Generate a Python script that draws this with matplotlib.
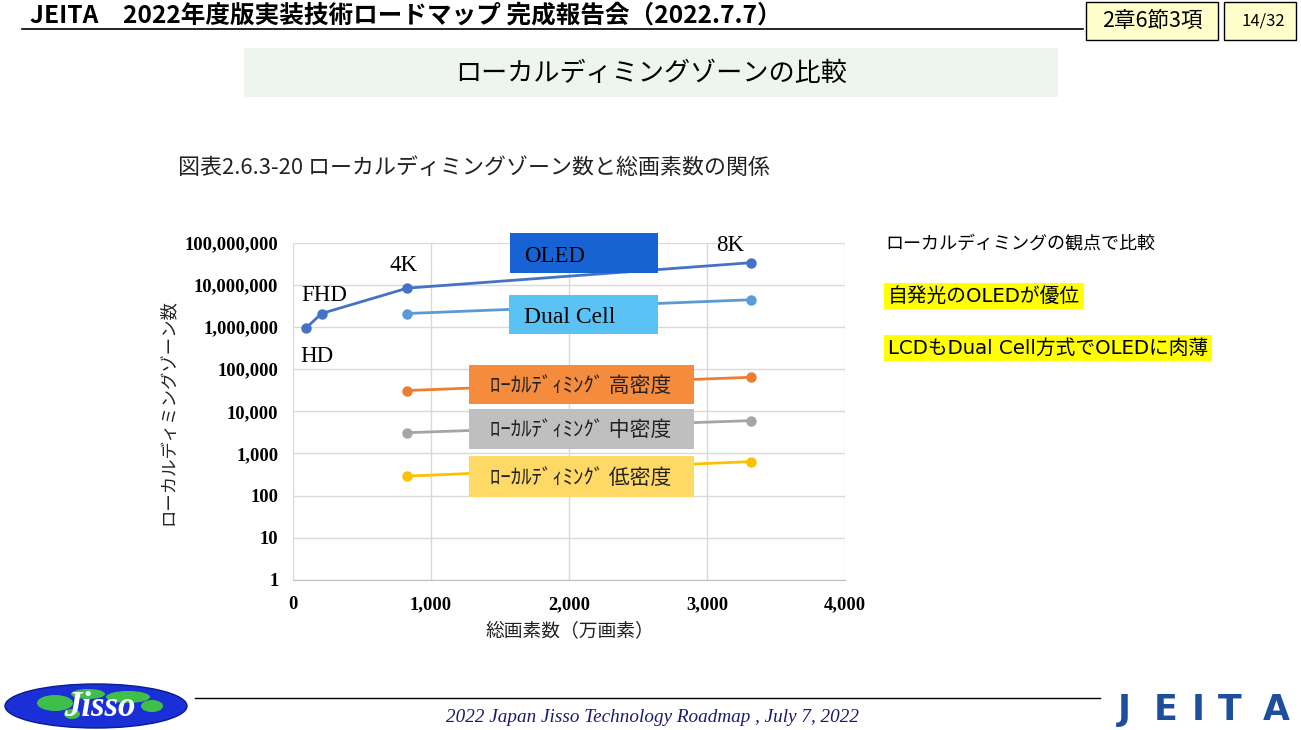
import matplotlib
matplotlib.use("Agg")
import matplotlib.pyplot as plt
from matplotlib.patches import Rectangle, Ellipse
from matplotlib.ticker import FuncFormatter, FixedLocator

plt.rcParams['font.family'] = ['Noto Sans CJK JP', 'DejaVu Sans']

# ---------------- data ----------------
resolutions = ["HD", "FHD", "4K", "8K"]
oled_x = [92, 207, 829, 3318]                # 万画素
oled_y = [921600, 2073600, 8294400, 33177600]
lcd_x = [829, 3318]
dual_y = [2073600, 4400000]
high_y = [31000, 64000]
mid_y = [3100, 6000]
low_y = [290, 640]
xticks = [0, 1000, 2000, 3000, 4000]
yticks = [1, 10, 100, 1000, 10000, 100000, 1000000, 10000000, 100000000]

W, H = 1301, 730
fig = plt.figure(figsize=(W / 100, H / 100), dpi=100)
fig.patch.set_facecolor("white")

def fx(x):
    return x / W

def fy(y):
    return 1 - y / H

def frect(x0, y0, x1, y1, **kw):
    r = Rectangle((fx(x0), fy(y1)), fx(x1) - fx(x0), fy(y0) - fy(y1),
                  transform=fig.transFigure, **kw)
    fig.patches.append(r)
    return r

# ---------------- header ----------------
fig.text(fx(30), fy(16), "JEITA　2022年度版実装技術ロードマップ 完成報告会（2022.7.7）",
         fontsize=17.7, fontweight="bold", ha="left", va="center")
fig.add_artist(plt.Line2D([fx(22), fx(1083)], [fy(29), fy(29)], color="black",
                          lw=1.2, transform=fig.transFigure))
frect(1086, 2, 1218, 40, facecolor="#ffffcc", edgecolor="black", lw=1)
fig.text(fx(1152), fy(21), "2章6節3項", fontsize=15.5, ha="center", va="center")
frect(1224, 2, 1296, 40, facecolor="#ffffcc", edgecolor="black", lw=1)
fig.text(fx(1263), fy(21), "14/32", fontsize=12, ha="center", va="center")

frect(244, 48, 1058, 97, facecolor="#eef5ef", edgecolor="none")
fig.text(fx(651), fy(73), "ローカルディミングゾーンの比較", fontsize=18.8,
         ha="center", va="center")

fig.text(fx(178), fy(168), "図表2.6.3-20 ローカルディミングゾーン数と総画素数の関係",
         fontsize=15.8, ha="left", va="center", color="#222222")

# ---------------- chart ----------------
ax = fig.add_axes([fx(293), fy(580), fx(845) - fx(293), fy(242.5) - fy(580)])
ax.set_yscale("log")
ax.set_xlim(0, 4000)
ax.set_ylim(1, 100000000)
ax.xaxis.set_major_locator(FixedLocator(xticks))
ax.yaxis.set_major_locator(FixedLocator(yticks))
ax.yaxis.set_minor_locator(FixedLocator([]))
ax.xaxis.set_major_formatter(FuncFormatter(lambda v, p: f"{int(v):,}"))
ax.yaxis.set_major_formatter(FuncFormatter(lambda v, p: f"{int(round(v)):,}"))
ax.grid(True, color="#d9d9d9", lw=1)
for s in ["top", "right", "left"]:
    ax.spines[s].set_visible(False)
ax.spines["bottom"].set_color("#bfbfbf")
ax.tick_params(axis="y", length=0, pad=10.5)
ax.tick_params(axis="x", length=0, pad=11.5)
for lab in ax.get_xticklabels() + ax.get_yticklabels():
    lab.set_fontfamily("Liberation Serif")
    lab.set_fontweight("bold")
    lab.set_fontsize(13.3)

mk = dict(marker="o", markersize=6.5, lw=2.0, clip_on=False)
ax.plot(oled_x, oled_y, color="#4472c4", **mk, zorder=5)
ax.plot(lcd_x, dual_y, color="#5b9bd5", **mk, zorder=4)
ax.plot(lcd_x, high_y, color="#ed7d31", **mk, zorder=4)
ax.plot(lcd_x, mid_y, color="#a5a5a5", **mk, zorder=4)
ax.plot(lcd_x, low_y, color="#ffc000", **mk, zorder=4)

label_offsets = [(-5, -28), (-20, 18), (-18, 23), (-35, 17)]
for name, x, y, off in zip(resolutions, oled_x, oled_y, label_offsets):
    ax.annotate(name, (x, y), xytext=off, textcoords="offset pixels",
                fontfamily="Liberation Serif", fontsize=16.5, ha="left",
                va="center", annotation_clip=False)

fig.text(fx(570), fy(632), "総画素数（万画素）", fontsize=13.5, ha="center",
         va="center", color="#222222")
fig.text(fx(168), fy(412), "ローカルディミングゾーン数", fontsize=12.5, ha="center",
         va="center", rotation=90, color="#222222")

# series labels (boxes)
frect(510, 233, 658, 273, facecolor="#1763d4", edgecolor="none", zorder=3)
fig.text(fx(524), fy(256), "OLED", fontfamily="Liberation Serif", fontsize=16.5,
         ha="left", va="center", zorder=4)
frect(509, 295, 658, 334, facecolor="#5bc2f5", edgecolor="none", zorder=3)
fig.text(fx(524), fy(317), "Dual Cell", fontfamily="Liberation Serif", fontsize=17,
         ha="left", va="center", zorder=4)
box_specs = [(365, 404, "#f58b3c", "ﾛｰｶﾙﾃﾞｨﾐﾝｸﾞ 高密度"),
             (409, 449, "#bfbfbf", "ﾛｰｶﾙﾃﾞｨﾐﾝｸﾞ 中密度"),
             (456, 497, "#ffd966", "ﾛｰｶﾙﾃﾞｨﾐﾝｸﾞ 低密度")]
for y0, y1, c, t in box_specs:
    frect(469, y0, 694, y1, facecolor=c, edgecolor="none", zorder=3)
    fig.text(fx(581), fy((y0 + y1) / 2 + 1), t, fontsize=15, ha="center",
             va="center", zorder=4, color="#222222")

# ---------------- right notes ----------------
fig.text(fx(885), fy(244), "ローカルディミングの観点で比較", fontsize=13,
         ha="left", va="center")
hl = dict(boxstyle="square,pad=0.2", facecolor="#ffff00", edgecolor="none")
note_font = ['DejaVu Sans', 'Noto Sans CJK JP']
fig.text(fx(888), fy(296), "自発光のOLEDが優位", fontsize=14.2, ha="left", va="center",
         family=note_font, bbox=hl)
fig.text(fx(888), fy(348), "LCDもDual Cell方式でOLEDに肉薄", fontsize=14.2,
         ha="left", va="center", family=note_font, bbox=hl)

# ---------------- footer ----------------
fig.add_artist(plt.Line2D([fx(195), fx(1100)], [fy(698), fy(698)], color="black",
                          lw=1, transform=fig.transFigure))
fig.text(fx(652), fy(717), "2022 Japan Jisso Technology Roadmap , July 7, 2022",
         fontfamily="Liberation Serif", fontstyle="italic", fontsize=13.8,
         ha="center", va="center", color="#1a1a70")
ell = Ellipse((fx(96), fy(706)), fx(182), 44 / H, transform=fig.transFigure,
              facecolor="#1b2fd6", edgecolor="#0a1a90", lw=1)
fig.patches.append(ell)
for cx, cy, w, h in [(55, 703, 36, 16), (88, 694, 34, 10), (128, 697, 44, 12),
                     (152, 706, 22, 12), (72, 714, 16, 10)]:
    fig.patches.append(Ellipse((fx(cx), fy(cy)), w / W, h / H,
                               transform=fig.transFigure, facecolor="#3fbf4a",
                               edgecolor="none"))
fig.text(fx(100), fy(707), "Jisso", fontfamily="Liberation Serif", fontstyle="italic",
         fontweight="bold", fontsize=25, color="white", ha="center", va="center")
for letter, lx in zip("JEITA", [1124, 1166, 1198, 1230, 1276]):
    fig.text(fx(lx), fy(720), letter, fontfamily="DejaVu Sans", fontweight="bold",
             fontsize=25, color="#1d4f9c", ha="center", va="baseline")

fig.savefig("out.png", dpi=100)
